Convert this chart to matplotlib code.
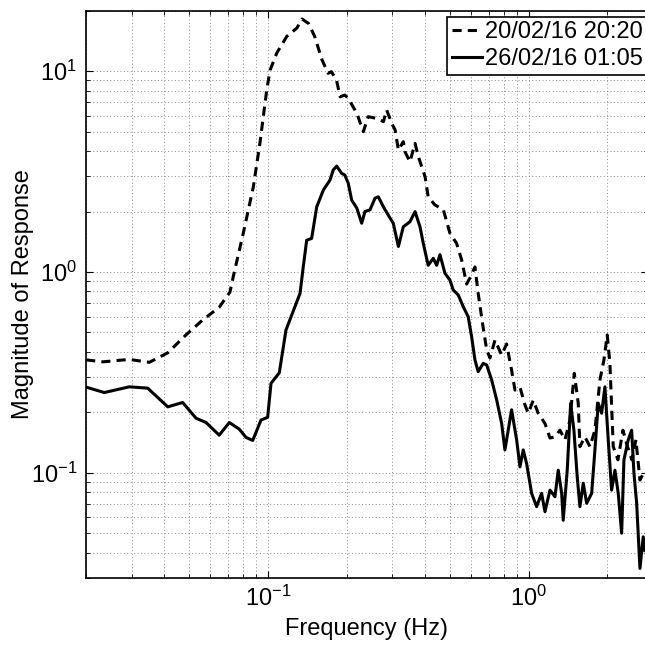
import matplotlib
matplotlib.use("Agg")
import matplotlib.pyplot as plt
from matplotlib.ticker import LogLocator, NullFormatter

plt.rcParams["font.family"] = ["Liberation Sans", "DejaVu Sans"]
plt.rcParams["mathtext.default"] = "regular"
plt.rcParams["axes.unicode_minus"] = False

# 20/02/16 20:20 (dashed)
freq_a = [0.0201, 0.0233, 0.0294, 0.0351, 0.0413, 0.0485, 0.0562, 0.0650, 0.0715, 0.0736,
          0.0804, 0.0879, 0.0931, 0.0989, 0.1018, 0.108, 0.118, 0.129, 0.135, 0.143,
          0.151, 0.161, 0.170, 0.175, 0.183, 0.189, 0.197, 0.203, 0.219, 0.232,
          0.242, 0.261, 0.277, 0.285, 0.298, 0.307, 0.316, 0.330, 0.335, 0.350,
          0.366, 0.377, 0.400, 0.411, 0.436, 0.470, 0.498, 0.528, 0.552, 0.577,
          0.594, 0.621, 0.639, 0.668, 0.689, 0.709, 0.741, 0.786, 0.821, 0.858,
          0.884, 0.924, 0.965, 0.994, 1.039, 1.085, 1.152, 1.204, 1.258, 1.315,
          1.374, 1.436, 1.492, 1.545, 1.568, 1.639, 1.713, 1.790, 1.871, 1.938,
          1.995, 2.043, 2.104, 2.193, 2.292, 2.374, 2.481, 2.570, 2.663, 2.783]
mag_a = [0.365, 0.357, 0.367, 0.355, 0.396, 0.486, 0.577, 0.667, 0.795, 0.948,
         1.56, 2.66, 4.37, 8.06, 10.1, 12.3, 14.9, 16.4, 18.2, 17.3,
         14.9, 11.4, 9.77, 9.95, 9.04, 7.46, 7.61, 7.33, 6.17, 5.00,
         5.94, 5.82, 5.61, 6.41, 5.50, 5.10, 4.05, 4.46, 3.97, 3.54,
         4.37, 3.75, 2.98, 2.37, 2.16, 2.04, 1.56, 1.39, 1.15, 0.871,
         0.934, 1.06, 0.783, 0.526, 0.409, 0.373, 0.458, 0.386, 0.438, 0.325,
         0.258, 0.267, 0.218, 0.198, 0.230, 0.198, 0.176, 0.149, 0.151, 0.163,
         0.146, 0.183, 0.313, 0.222, 0.135, 0.151, 0.135, 0.163, 0.290, 0.365,
         0.486, 0.351, 0.135, 0.116, 0.163, 0.138, 0.116, 0.146, 0.092, 0.103]

# 26/02/16 01:05 (solid)
freq_b = [0.0201, 0.0236, 0.0294, 0.0346, 0.0413, 0.0471, 0.0530, 0.0579, 0.0650, 0.0711,
          0.0776, 0.0824, 0.0874, 0.0940, 0.0997, 0.1027, 0.1105, 0.1172, 0.1327, 0.1365,
          0.1407, 0.147, 0.1537, 0.163, 0.1728, 0.1778, 0.1833, 0.1916, 0.197, 0.203,
          0.2093, 0.219, 0.2286, 0.2353, 0.246, 0.257, 0.2647, 0.277, 0.289, 0.302,
          0.316, 0.330, 0.350, 0.366, 0.3824, 0.3936, 0.411, 0.430, 0.443, 0.456,
          0.4767, 0.498, 0.5128, 0.536, 0.560, 0.585, 0.603, 0.621, 0.639, 0.668,
          0.689, 0.7196, 0.752, 0.786, 0.809, 0.858, 0.897, 0.924, 0.951, 0.980,
          1.024, 1.070, 1.118, 1.152, 1.204, 1.258, 1.295, 1.335, 1.353, 1.402,
          1.445, 1.487, 1.531, 1.568, 1.615, 1.664, 1.739, 1.790, 1.843, 1.899,
          1.955, 2.013, 2.074, 2.136, 2.199, 2.266, 2.312, 2.402, 2.475, 2.526,
          2.587, 2.663, 2.741, 2.783]
mag_b = [0.267, 0.251, 0.268, 0.264, 0.213, 0.224, 0.187, 0.178, 0.154, 0.178,
         0.165, 0.150, 0.145, 0.183, 0.189, 0.279, 0.315, 0.514, 0.783, 1.06,
         1.44, 1.47, 2.11, 2.56, 2.87, 3.22, 3.37, 3.10, 3.04, 2.77,
         2.28, 2.08, 1.75, 2.00, 2.04, 2.33, 2.37, 2.11, 1.92, 1.75,
         1.34, 1.68, 1.78, 2.00, 1.68, 1.39, 1.08, 1.17, 1.08, 1.22,
         0.985, 0.912, 0.813, 0.768, 0.672, 0.599, 0.476, 0.365, 0.319, 0.351,
         0.344, 0.290, 0.231, 0.176, 0.130, 0.206, 0.146, 0.107, 0.130, 0.111,
         0.079, 0.0678, 0.079, 0.064, 0.082, 0.076, 0.103, 0.079, 0.058, 0.103,
         0.222, 0.163, 0.0957, 0.0678, 0.0887, 0.0705, 0.079, 0.130, 0.222, 0.198,
         0.268, 0.146, 0.082, 0.103, 0.079, 0.050, 0.116, 0.146, 0.163, 0.0995,
         0.0705, 0.0334, 0.048, 0.041]

labels = ["20/02/16 20:20", "26/02/16 01:05"]

fig = plt.figure(figsize=(6.45, 6.46), dpi=100)
ax = fig.add_axes([0.1327, 0.1056, 0.872, 0.8777])

ax.plot(freq_a, mag_a, color="black", linewidth=2.2, linestyle=(0, (3, 2)), label=labels[0])
ax.plot(freq_b, mag_b, color="black", linewidth=2.2, linestyle="-", label=labels[1])

ax.set_xscale("log")
ax.set_yscale("log")
ax.set_xlim(0.02, 2.86)
ax.set_ylim(0.03, 20)

ax.xaxis.set_minor_locator(LogLocator(base=10, subs=range(2, 10)))
ax.yaxis.set_minor_locator(LogLocator(base=10, subs=range(2, 10)))
ax.xaxis.set_minor_formatter(NullFormatter())
ax.yaxis.set_minor_formatter(NullFormatter())

ax.grid(True, which="both", linestyle=(0, (1, 2.5)), linewidth=0.7, color="#8c8c8c")
ax.tick_params(which="both", direction="in", top=True, right=True, labelsize=17, pad=6)
ax.tick_params(which="major", length=5)
ax.tick_params(which="minor", length=3)
for s in ax.spines.values():
    s.set_linewidth(1.2)

ax.set_xlabel("Frequency (Hz)", fontsize=17, labelpad=5)
ax.set_ylabel("Magnitude of Response", fontsize=17)
ax.yaxis.set_label_coords(-0.092, 0.5)

leg = ax.legend(loc="upper right", bbox_to_anchor=(1.009, 1.0), fontsize=17, frameon=True,
                fancybox=False, framealpha=1, edgecolor="black", handlelength=1.3,
                handletextpad=0.1, borderpad=0.2, labelspacing=0.2, borderaxespad=0.25)
leg.get_frame().set_linewidth(1.2)

fig.savefig("out.png", dpi=100)
